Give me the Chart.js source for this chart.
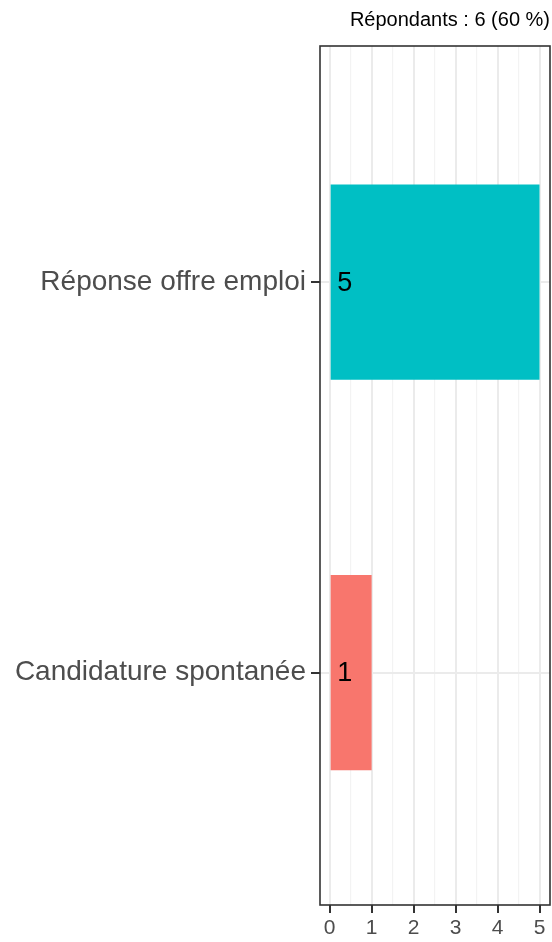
<!DOCTYPE html>
<html>
<head>
<meta charset="utf-8">
<style>
  body { margin: 0; background: #ffffff; }
</style>
</head>
<body>
<canvas id="myChart" width="552" height="942"></canvas>
<script src="https://cdn.jsdelivr.net/npm/chart.js@4.4.1/dist/chart.umd.min.js"></script>
<script>
    // data (bottom to top)
    const categories = ["Candidature spontanée", "Réponse offre emploi"];
    const counts = [1, 5];
    const barColors = ["#F8766D", "#00BFC4"];
    const xTicks = [0, 0.5, 1, 1.5, 2, 2.5, 3, 3.5, 4, 4.5, 5];
    const titleText = "Répondants : 6 (60 %)";

    const FONT = "'Liberation Sans', Arial, Helvetica, sans-serif";

    const points = categories.map((c, i) => ({ x: counts[i], y: i + 1 }));

    // ggplot style panel border + value labels
    const panelPlugin = {
        id: "panel",
        afterDatasetsDraw(chart) {
            const ctx = chart.ctx;
            const xs = chart.scales.x;
            const meta = chart.getDatasetMeta(0);
            ctx.save();
            ctx.fillStyle = "#000000";
            ctx.font = "27px " + FONT;
            ctx.textAlign = "center";
            ctx.textBaseline = "middle";
            meta.data.forEach((el, i) => {
                ctx.fillText(String(counts[i]), xs.getPixelForValue(0) + 15, el.y + 1);
            });
            ctx.restore();
        },
        afterDraw(chart) {
            const a = chart.chartArea;
            const ctx = chart.ctx;
            ctx.save();
            ctx.strokeStyle = "#333333";
            ctx.lineWidth = 1.6;
            ctx.strokeRect(a.left, a.top, a.right - a.left, a.bottom - a.top);
            ctx.restore();
        }
    };

    new Chart("myChart", {
        type: "bar",
        data: {
            datasets: [{
                data: points,
                backgroundColor: barColors,
                borderWidth: 0,
                categoryPercentage: 1,
                barPercentage: 0.5
            }]
        },
        options: {
            responsive: false,
            animation: false,
            indexAxis: "y",
            layout: { padding: { right: 2, left: 0, bottom: 0 } },
            plugins: {
                legend: { display: false },
                tooltip: { enabled: false },
                title: {
                    display: true,
                    text: titleText,
                    align: "end",
                    color: "#000000",
                    font: { family: FONT, size: 20, weight: "normal" },
                    padding: { top: 8, bottom: 14 }
                }
            },
            scales: {
                x: {
                    type: "linear",
                    min: -0.23,
                    max: 5.25,
                    afterBuildTicks: (s) => { s.ticks = xTicks.map(v => ({ value: v })); },
                    afterFit: (s) => { s.height = 37; },
                    border: { display: false },
                    grid: {
                        color: (c) => Number.isInteger(c.tick.value) ? "#EBEBEB" : "#F3F3F3",
                        lineWidth: (c) => Number.isInteger(c.tick.value) ? 2 : 1.2,
                        tickColor: (c) => Number.isInteger(c.tick.value) ? "#333333" : "rgba(0,0,0,0)",
                        tickWidth: 2,
                        tickLength: 8
                    },
                    ticks: {
                        autoSkip: false,
                        maxRotation: 0,
                        padding: 3,
                        color: "#4D4D4D",
                        font: { family: FONT, size: 21 },
                        callback: (v) => Number.isInteger(v) ? String(v) : ""
                    }
                },
                y: {
                    type: "linear",
                    min: 0.405,
                    max: 2.605,
                    offset: false,
                    afterBuildTicks: (s) => { s.ticks = categories.map((c, i) => ({ value: i + 1 })); },
                    afterFit: (s) => { s.width = 320; },
                    border: { display: false },
                    grid: {
                        offset: false,
                        color: "#EBEBEB",
                        lineWidth: 2,
                        tickColor: "#333333",
                        tickWidth: 2,
                        tickLength: 9
                    },
                    ticks: {
                        autoSkip: false,
                        padding: 5,
                        color: "#4D4D4D",
                        font: { family: FONT, size: 28 },
                        callback: (v) => categories[v - 1]
                    }
                }
            }
        },
        plugins: [panelPlugin]
    });
</script>
</body>
</html>
